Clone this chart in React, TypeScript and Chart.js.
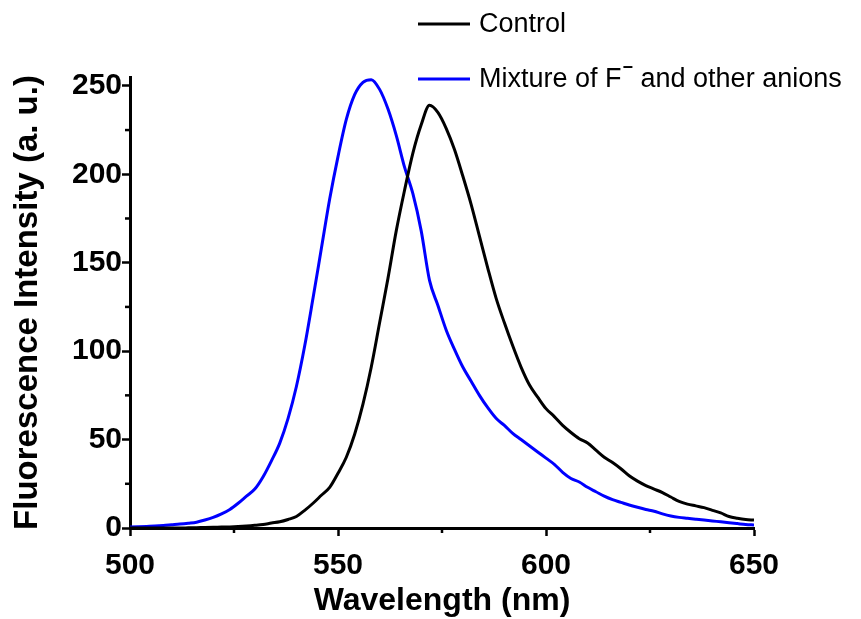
import React, { useEffect, useRef } from "react";
import { Chart, registerables } from "chart.js";

Chart.register(...registerables);

const wavelengths = [
  500, 502, 504, 506, 508, 510, 512, 514, 516, 518, 520, 522, 524, 526, 528, 530,
  532, 534, 536, 538, 540, 542, 544, 546, 548, 550, 552, 554, 556, 558, 560, 562,
  564, 566, 568, 570, 572, 574, 576, 578, 580, 582, 584, 586, 588, 590, 592, 594,
  596, 598, 600, 602, 604, 606, 608, 610, 612, 614, 616, 618, 620, 622, 624, 626,
  628, 630, 632, 634, 636, 638, 640, 642, 644, 646, 648, 650,
];

const controlValues = [
  0, 0, 0, 0, 0, 0, 0, 0.1, 0.2, 0.3, 0.4, 0.5, 0.6, 0.8, 1.1, 1.5,
  2, 2.8, 3.5, 4.8, 6.5, 10, 14, 18.5, 23, 31, 40, 53, 70, 91, 116, 141,
  168, 191, 212, 228, 239, 235, 226, 214, 199, 183, 165, 147, 130, 116, 103, 91,
  81, 74, 67.5, 63, 58, 54, 50.5, 48, 44, 40, 37, 33.5, 29.5, 26.5, 24, 22,
  20, 17.5, 15, 13.5, 12.5, 11.5, 10, 8.5, 6.5, 5.5, 4.8, 4.5,
];

const mixtureValues = [
  0.5, 0.7, 0.9, 1.1, 1.4, 1.8, 2.2, 2.7, 3.3, 4.5, 6, 8, 10.5, 14, 18, 22,
  29, 38, 48, 62, 80, 103, 130, 158, 186, 210, 231, 245, 252, 253.5, 248, 237,
  222, 204, 189, 168, 140, 126, 112, 101, 91, 83, 75, 68, 62, 58, 53.5, 50,
  46.5, 43, 39.5, 36, 31.5, 28, 26, 23, 20.5, 18, 16, 14.5, 13, 11.7, 10.5, 9.5,
  8, 6.8, 6, 5.5, 5, 4.5, 4, 3.5, 3, 2.5, 2, 1.7,
];

const seriesLabels = ["Control", "Mixture of F\u207B and other anions"];
const seriesColors = ["#000000", "#0000FF"];
const xMinorTicks = [525, 575, 625];
const yMinorTicks = [25, 75, 125, 175, 225];

const FONT = "'Liberation Sans', Arial, sans-serif";

const minorTicksPlugin = {
  id: "minorTicks",
  afterDraw(chart: any) {
    const { ctx, scales } = chart;
    const x = scales.x;
    const y = scales.y;
    ctx.save();
    ctx.strokeStyle = "#000";
    ctx.lineWidth = 2.5;
    xMinorTicks.forEach((v) => {
      const px = x.getPixelForValue(v);
      ctx.beginPath();
      ctx.moveTo(px, y.bottom);
      ctx.lineTo(px, y.bottom + 5);
      ctx.stroke();
    });
    yMinorTicks.forEach((v) => {
      const py = y.getPixelForValue(v);
      ctx.beginPath();
      ctx.moveTo(x.left, py);
      ctx.lineTo(x.left - 5, py);
      ctx.stroke();
    });
    ctx.restore();
  },
};

const legendPlugin = {
  id: "customLegend",
  afterDraw(chart: any) {
    const { ctx } = chart;
    ctx.save();
    const rows = [24, 79];
    ctx.textBaseline = "middle";
    rows.forEach((yy, i) => {
      ctx.strokeStyle = seriesColors[i];
      ctx.lineWidth = 3;
      ctx.beginPath();
      ctx.moveTo(418, yy);
      ctx.lineTo(470, yy);
      ctx.stroke();
      ctx.fillStyle = "#000";
      ctx.font = `27px ${FONT}`;
      if (i === 0) {
        ctx.fillText(seriesLabels[0], 479, yy + 1);
      } else {
        const [pre, post] = seriesLabels[1].split("\u207B");
        ctx.fillText(pre, 479, yy + 1);
        let w = ctx.measureText(pre).width;
        ctx.font = `bold 18px ${FONT}`;
        ctx.fillText("\u2212", 479 + w + 1, yy - 11);
        w += ctx.measureText("\u2212").width + 1;
        ctx.font = `27px ${FONT}`;
        ctx.fillText(post, 479 + w, yy + 1);
      }
    });
    ctx.restore();
  },
};

export default function App() {
  const canvasRef = useRef<HTMLCanvasElement | null>(null);

  useEffect(() => {
    if (!canvasRef.current) return;
    const chart = new Chart(canvasRef.current, {
      type: "line",
      data: {
        datasets: [
          {
            label: seriesLabels[0],
            data: wavelengths.map((w, i) => ({ x: w, y: controlValues[i] })),
            borderColor: seriesColors[0],
            borderWidth: 3,
            pointRadius: 0,
            fill: false,
            tension: 0.4,
            cubicInterpolationMode: "monotone",
          },
          {
            label: seriesLabels[1],
            data: wavelengths.map((w, i) => ({ x: w, y: mixtureValues[i] })),
            borderColor: seriesColors[1],
            borderWidth: 3,
            pointRadius: 0,
            fill: false,
            tension: 0.4,
            cubicInterpolationMode: "monotone",
          },
        ],
      },
      options: {
        animation: false,
        responsive: false,
        devicePixelRatio: 1,
        layout: { padding: { top: 77, right: 107, bottom: 0, left: 0 } },
        plugins: {
          legend: { display: false },
          tooltip: { enabled: false },
        },
        scales: {
          x: {
            type: "linear",
            min: 500,
            max: 650,
            afterFit: (s: any) => {
              s.height = 91;
            },
            ticks: {
              stepSize: 50,
              color: "#000",
              padding: 12,
              font: { family: FONT, size: 30, weight: "bold" },
              maxRotation: 0,
            },
            grid: {
              display: true,
              drawOnChartArea: false,
              drawTicks: true,
              tickLength: 8,
              tickWidth: 2.5,
              tickColor: "#000",
            },
            border: { display: true, color: "#000", width: 3 },
            title: {
              display: true,
              text: "Wavelength (nm)",
              color: "#000",
              font: { family: FONT, size: 32, weight: "bold", lineHeight: 1.1 },
              padding: { top: 0, bottom: 0 },
            },
          },
          y: {
            type: "linear",
            min: 0,
            max: 255,
            afterFit: (s: any) => {
              s.width = 130;
            },
            ticks: {
              stepSize: 50,
              includeBounds: false,
              color: "#000",
              padding: 0,
              font: { family: FONT, size: 30, weight: "bold" },
            },
            grid: {
              display: true,
              drawOnChartArea: false,
              drawTicks: true,
              tickLength: 8,
              tickWidth: 2.5,
              tickColor: "#000",
            },
            border: { display: true, color: "#000", width: 3 },
            title: {
              display: true,
              text: "Fluorescence Intensity (a. u.)",
              color: "#000",
              font: { family: FONT, size: 33, weight: "bold" },
              padding: { top: 8, bottom: 0 },
            },
          },
        },
      },
      plugins: [minorTicksPlugin, legendPlugin],
    });
    return () => chart.destroy();
  }, []);

  return (
    <div style={{ position: "absolute", left: 0, top: 0, width: 861, height: 619 }}>
      <canvas ref={canvasRef} width={861} height={619} />
    </div>
  );
}
